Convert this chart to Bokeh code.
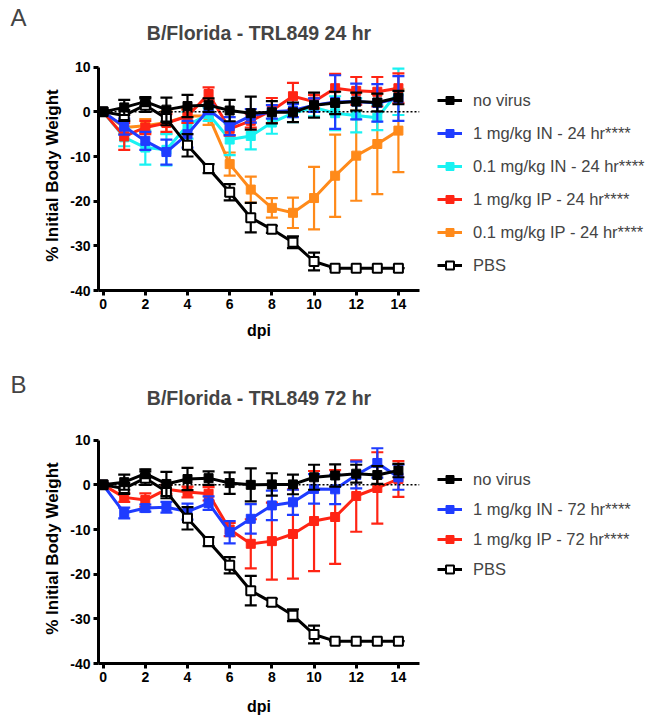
import numpy as np
from bokeh.plotting import figure
from bokeh.layouts import column
from bokeh.models import (Legend, LegendItem, Span, FixedTicker, Title, Range1d)
from bokeh.embed import file_html
from bokeh.resources import INLINE

FONT = "Liberation Sans"

days = list(range(15))
x_ticks = [0, 2, 4, 6, 8, 10, 12, 14]
y_ticks = [-40, -30, -20, -10, 0, 10]

# ---- Panel A: 24 hr ----
nv_A = [0, 1.0, 2.3, 0.5, 1.3, 1.5, 0.3, -0.3, -0.1, -0.1, 1.5, 2.0, 2.3, 2.1, 3.2]
nv_A_err = [0.3, 1.7, 1.0, 2.7, 2.5, 1.5, 2.4, 3.7, 2.5, 2.2, 2.8, 2.5, 2.0, 2.0, 1.5]
in1_A = [0, -3.3, -6.5, -9.0, -5.0, 0.5, -3.2, -0.9, 0.0, 0.3, 1.5, 2.2, 2.3, 2.0, 3.0]
in1_A_err = [0.3, 1.8, 2.0, 2.8, 3.0, 1.0, 2.0, 1.5, 1.5, 1.5, 1.5, 6.0, 4.0, 4.2, 5.0]
in01_A = [0, -5.7, -8.0, -8.5, -3.0, -0.5, -6.2, -5.4, -2.4, -0.3, 1.0, -0.3, -0.8, -1.3, 4.5]
in01_A_err = [0.3, 2.0, 3.8, 3.5, 3.0, 1.5, 3.5, 3.0, 2.5, 2.0, 2.0, 3.8, 3.8, 2.8, 5.2]
ip1_A = [0, -5.5, -3.5, -2.5, -1.0, 4.0, -3.8, -2.0, 0.3, 3.5, 2.3, 5.3, 4.7, 4.5, 5.3]
ip1_A_err = [0.3, 3.0, 1.5, 2.0, 1.5, 1.5, 1.5, 1.5, 2.8, 3.0, 1.5, 3.2, 3.1, 3.3, 3.3]
ip01_A = [0, -3.5, -3.1, -2.4, -0.9, -0.9, -11.7, -17.4, -21.5, -22.6, -19.3, -14.3, -9.8, -7.2, -4.2]
ip01_A_err = [0.3, 1.5, 1.5, 2.5, 1.5, 2.0, 2.6, 2.9, 2.2, 3.4, 7.0, 9.2, 10.1, 11.2, 9.3]

# ---- PBS (shared) ----
pbs = [0, -0.8, 1.5, -1.5, -7.5, -12.7, -18.0, -23.7, -26.3, -29.2, -33.5, -35, -35, -35, -35]
pbs_err = [0, 1.2, 1.5, 1.5, 2.5, 1.0, 1.8, 3.3, 0.8, 1.3, 2.0, 0, 0, 0, 0]

# ---- Panel B: 72 hr ----
nv_B = [0, 0.6, 2.5, 0.2, 1.3, 1.5, 0.4, 0.0, 0.1, 0.1, 1.7, 2.1, 2.5, 2.2, 3.2]
nv_B_err = [0.3, 1.7, 1.0, 2.7, 2.5, 1.5, 2.4, 3.7, 2.5, 2.2, 2.8, 2.5, 2.0, 2.0, 1.5]
in1_B = [0, -6.3, -5.2, -5.0, -6.0, -4.1, -10.6, -7.6, -4.6, -3.9, -0.9, -1.0, 2.2, 4.9, 1.7]
in1_B_err = [0.3, 1.2, 0.8, 1.2, 1.8, 1.5, 2.5, 3.3, 3.3, 2.8, 3.3, 3.3, 3.0, 3.3, 2.8]
ip1_B = [0, -2.8, -3.4, -1.0, -1.6, -2.0, -10.0, -13.2, -12.6, -11.0, -8.1, -7.2, -2.5, -0.7, 1.3]
ip1_B_err = [0.3, 1.0, 1.5, 1.0, 1.2, 1.5, 1.5, 5.5, 8.6, 10.0, 11.2, 10.5, 8.0, 8.0, 4.0]

labels_A = ["no virus", "1 mg/kg IN - 24 hr****", "0.1 mg/kg IN - 24 hr****",
            "1 mg/kg IP - 24 hr****", "0.1 mg/kg IP - 24 hr****", "PBS"]
labels_B = ["no virus", "1 mg/kg IN - 72 hr****", "1 mg/kg IP - 72 hr****", "PBS"]

BLACK = "#000000"
BLUE = "#1f3cff"
CYAN = "#19f2f2"
RED = "#ff2414"
ORANGE = "#ff8a1a"


def draw_series(p, vals, errs, color, hollow=False):
    v = np.array(vals, dtype=float)
    e = np.array(errs, dtype=float)
    lo, hi = v - e, v + e
    p.segment(x0=days, y0=lo, x1=days, y1=hi, line_color=color, line_width=2.2)
    p.scatter(x=days, y=hi, marker="dash", size=12, line_color=color, line_width=2.2)
    p.scatter(x=days, y=lo, marker="dash", size=12, line_color=color, line_width=2.2)
    ln = p.line(x=days, y=vals, line_color=color, line_width=3)
    if hollow:
        mk = p.scatter(x=days, y=vals, marker="square", size=9, fill_color="white",
                       line_color=color, line_width=2)
    else:
        mk = p.scatter(x=days, y=vals, marker="square", size=9, fill_color=color,
                       line_color=color, line_width=1)
    return [ln, mk]


def make_panel(title, letter, series, legend_labels, border_top, border_bottom,
               title_standoff, letter_standoff, dpi_standoff, leg_spacing, leg_vy):
    p = figure(frame_width=321, frame_height=230, output_backend="svg",
               toolbar_location=None, min_border_left=98, min_border_right=228,
               min_border_top=border_top, min_border_bottom=border_bottom,
               x_range=Range1d(-0.22, 15), y_range=Range1d(-40, 11.5), title=None)
    p.outline_line_color = None
    p.grid.visible = False
    p.background_fill_color = "white"
    p.border_fill_color = "white"

    p.add_layout(Title(text=title, text_font=FONT, text_font_size="19.5px",
                       text_font_style="bold", align="center", offset=9,
                       standoff=title_standoff), "above")
    p.add_layout(Title(text=letter, text_font=FONT, text_font_size="24px",
                       text_font_style="normal", align="left", offset=-88,
                       standoff=letter_standoff), "above")

    p.add_layout(Span(location=0, dimension="width", line_color="black",
                      line_width=1.5, line_dash="2 2"))

    items = {}
    for key, vals, errs, color, hollow in series:
        items[key] = draw_series(p, vals, errs, color, hollow)

    for ax in (p.xaxis[0], p.yaxis[0]):
        ax.axis_line_width = 3
        ax.major_tick_line_width = 3
        ax.major_tick_out = 5
        ax.major_tick_in = 0
        ax.minor_tick_line_color = None
        ax.major_label_text_font = FONT
        ax.major_label_text_font_size = "14px"
        ax.major_label_text_font_style = "bold"
        ax.major_label_text_color = "black"
        ax.axis_label_text_font = FONT
        ax.axis_label_text_font_style = "bold"
        ax.axis_label_text_color = "black"
        ax.major_label_standoff = 3

    p.xaxis.ticker = FixedTicker(ticks=x_ticks)
    p.xaxis.axis_label = "dpi"
    p.xaxis.axis_label_text_font_size = "16px"
    p.xaxis.axis_label_standoff = dpi_standoff

    p.yaxis.ticker = FixedTicker(ticks=y_ticks)
    p.yaxis.major_label_overrides = {t: str(t) for t in y_ticks}
    p.yaxis.bounds = (-40, 10)
    p.yaxis.axis_label = "% Initial Body Weight"
    p.yaxis.axis_label_text_font_size = "17px"
    p.yaxis.axis_label_standoff = 5

    legend_items = [LegendItem(label=lab, renderers=items[lab]) for lab in legend_labels]
    leg = Legend(items=legend_items, location=(18, leg_vy), margin=0, padding=0,
                 spacing=leg_spacing, glyph_width=25, glyph_height=20,
                 label_height=20, label_standoff=11,
                 label_text_font=FONT, label_text_font_size="16.5px",
                 border_line_color=None, background_fill_alpha=0)
    p.add_layout(leg, "right")
    return p


series_A = [
    (labels_A[4], ip01_A, ip01_A_err, ORANGE, False),
    (labels_A[2], in01_A, in01_A_err, CYAN, False),
    (labels_A[3], ip1_A, ip1_A_err, RED, False),
    (labels_A[1], in1_A, in1_A_err, BLUE, False),
    (labels_A[5], pbs, pbs_err, BLACK, True),
    (labels_A[0], nv_A, nv_A_err, BLACK, False),
]
series_B = [
    (labels_B[2], ip1_B, ip1_B_err, RED, False),
    (labels_B[1], in1_B, in1_B_err, BLUE, False),
    (labels_B[3], pbs, pbs_err, BLACK, True),
    (labels_B[0], nv_B, nv_B_err, BLACK, False),
]

pA = make_panel("B/Florida - TRL849 24 hr", "A", series_A, labels_A,
                60, 48, 33, -54, 10, 13, 15)
pB = make_panel("B/Florida - TRL849 72 hr", "B", series_B, labels_B,
                92, 55, 50, -77, 13, 10, 84)

layout = column(pA, pB, spacing=0)
open("out.html", "w").write(file_html(layout, INLINE))
